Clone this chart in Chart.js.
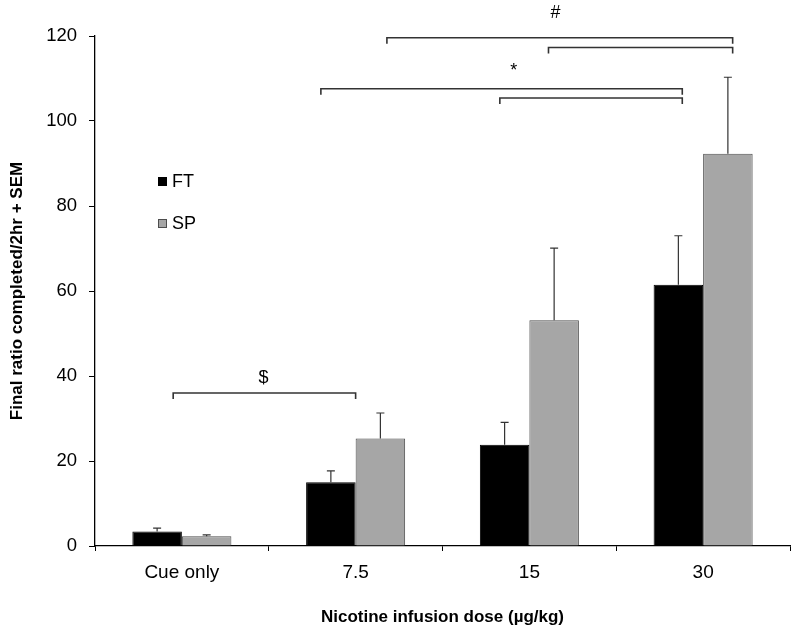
<!DOCTYPE html>
<html>
<head>
<meta charset="utf-8">
<title>Final ratio by nicotine dose</title>
<script src="https://cdn.jsdelivr.net/npm/chart.js@4"></script>
<style>
  html, body { margin: 0; padding: 0; background: #fff; }
  canvas { display: block; }
</style>
</head>
<body>
<canvas id="chart" width="800" height="634"></canvas>
<script>
// Données
const doses = ['Cue only', '7.5', '15', '30'];
const ftMeans = [3.4, 15.0, 23.8, 61.5];
const ftSem = [0.8, 2.7, 5.3, 11.5];
const spMeans = [2.3, 25.3, 53.1, 92.3];
const spSem = [0.3, 6.0, 17.0, 18.0];

// Crochets de significativité : [début, fin] en position de catégorie, hauteur en unités de l'axe y
const bracketFrom = [-0.05, 0.80, 1.83, 1.18, 2.11];
const bracketTo = [1.0, 2.88, 2.88, 3.17, 3.17];
const bracketLevel = [36.0, 107.6, 105.4, 119.6, 117.3];
const markText = ['$', '*', '#'];
const markPos = [0.47, 1.91, 2.15];
const markLevel = [39.6, 111.8, 125.4];

const FONT = 'Arial, "Liberation Sans", sans-serif';
Chart.defaults.font.family = FONT;
Chart.defaults.color = '#000';

// Barres d'erreur (+ SEM seulement)
const errorBars = {
  id: 'errorBars',
  afterDatasetsDraw(chart) {
    const ctx = chart.ctx;
    const y = chart.scales.y;
    const sems = [ftSem, spSem];
    ctx.save();
    ctx.strokeStyle = '#333';
    ctx.lineWidth = 1.2;
    chart.data.datasets.forEach((ds, i) => {
      const meta = chart.getDatasetMeta(i);
      meta.data.forEach((bar, j) => {
        const top = y.getPixelForValue(ds.data[j] + sems[i][j]);
        ctx.beginPath();
        ctx.moveTo(bar.x, bar.y);
        ctx.lineTo(bar.x, top);
        ctx.moveTo(bar.x - 4, top);
        ctx.lineTo(bar.x + 4, top);
        ctx.stroke();
      });
    });
    ctx.restore();
  }
};

// Crochets + symboles
const brackets = {
  id: 'brackets',
  afterDraw(chart) {
    const ctx = chart.ctx;
    const x = chart.scales.x;
    const y = chart.scales.y;
    ctx.save();
    ctx.strokeStyle = '#333';
    ctx.lineWidth = 1.6;
    bracketFrom.forEach((from, i) => {
      const x1 = x.getPixelForValue(from);
      const x2 = x.getPixelForValue(bracketTo[i]);
      const yy = y.getPixelForValue(bracketLevel[i]);
      ctx.beginPath();
      ctx.moveTo(x1, yy + 6);
      ctx.lineTo(x1, yy);
      ctx.lineTo(x2, yy);
      ctx.lineTo(x2, yy + 6);
      ctx.stroke();
    });
    ctx.fillStyle = '#000';
    ctx.font = '18px ' + FONT;
    ctx.textAlign = 'center';
    ctx.textBaseline = 'middle';
    markText.forEach((t, i) => {
      ctx.fillText(t, x.getPixelForValue(markPos[i]), y.getPixelForValue(markLevel[i]));
    });
    ctx.restore();
  }
};

// Légende dans la zone du graphique
const innerLegend = {
  id: 'innerLegend',
  afterDraw(chart) {
    const ctx = chart.ctx;
    ctx.save();
    ctx.font = '18px ' + FONT;
    ctx.textBaseline = 'middle';
    ctx.textAlign = 'left';
    chart.data.datasets.forEach((ds, i) => {
      const top = 177 + i * 42;
      ctx.fillStyle = ds.backgroundColor;
      ctx.fillRect(158, top, 9, 9);
      ctx.strokeStyle = ds.borderColor;
      ctx.lineWidth = 1;
      ctx.strokeRect(158.5, top + 0.5, 8, 8);
      ctx.fillStyle = '#000';
      ctx.fillText(ds.label, 172, top + 5);
    });
    ctx.restore();
  }
};

new Chart(document.getElementById('chart'), {
  type: 'bar',
  data: {
    labels: doses,
    datasets: [
      {
        label: 'FT',
        data: ftMeans,
        backgroundColor: '#000000',
        borderColor: '#000000',
        borderWidth: 1
      },
      {
        label: 'SP',
        data: spMeans,
        backgroundColor: '#a6a6a6',
        borderColor: '#4d4d4d',
        borderWidth: 1
      }
    ]
  },
  options: {
    responsive: false,
    animation: false,
    datasets: {
      bar: { categoryPercentage: 0.57, barPercentage: 1.0 }
    },
    layout: { padding: { top: 36, right: 10, left: 0, bottom: 0 } },
    plugins: {
      legend: { display: false },
      tooltip: { enabled: false }
    },
    scales: {
      x: {
        afterFit(scale) { scale.height = 88; },
        grid: { drawOnChartArea: false, drawTicks: true, tickLength: 5, color: '#000', offset: true },
        border: { color: '#000', width: 1.3 },
        ticks: { font: { size: 19 }, color: '#000', padding: 10 },
        title: {
          display: true,
          text: 'Nicotine infusion dose (µg/kg)',
          font: { size: 17, weight: 'bold' },
          color: '#000',
          padding: { top: 0, bottom: 6 }
        }
      },
      y: {
        min: 0,
        max: 120,
        afterFit(scale) { scale.width = 95; },
        grid: { drawOnChartArea: false, drawTicks: true, tickLength: 6, color: '#000' },
        border: { color: '#000', width: 1.3 },
        ticks: { stepSize: 20, font: { size: 18.5 }, color: '#000', padding: 12 },
        title: {
          display: true,
          text: 'Final ratio completed/2hr + SEM',
          font: { size: 17, weight: 'bold' },
          color: '#000',
          padding: { top: 7, bottom: 0 }
        }
      }
    }
  },
  plugins: [errorBars, brackets, innerLegend]
});
</script>
</body>
</html>
